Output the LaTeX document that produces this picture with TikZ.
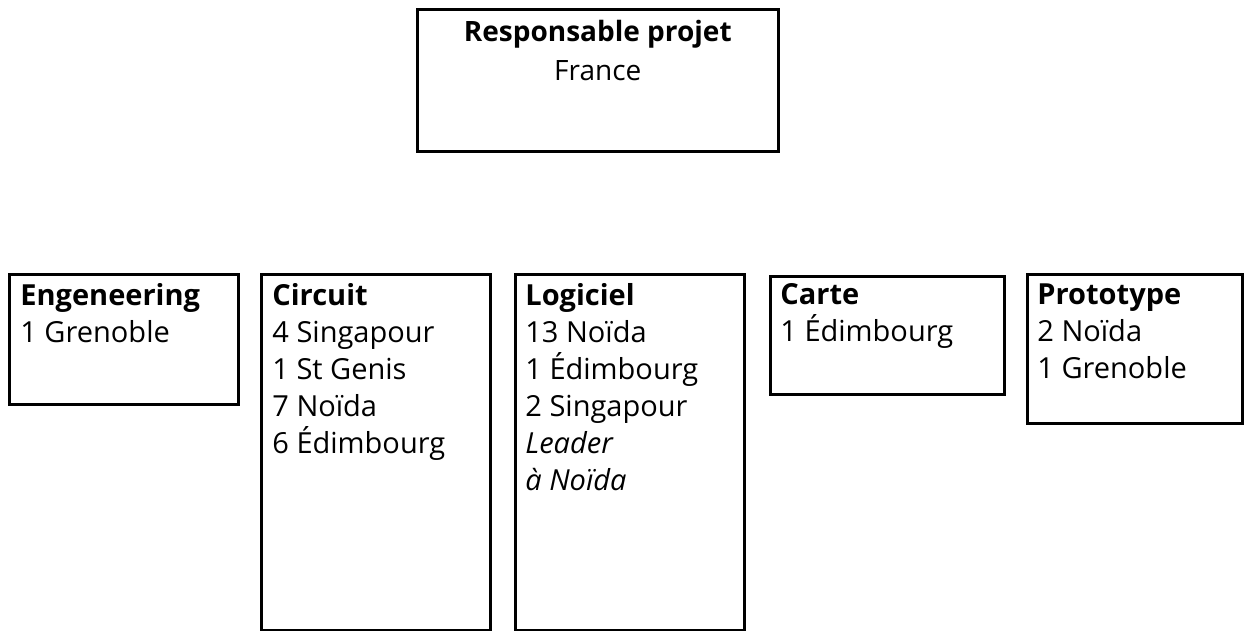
\documentclass[tikz,border=0pt]{standalone}
\usepackage{fontspec}
\setmainfont{Open Sans}
\usepackage{tikz}
\usetikzlibrary{positioning}

\begin{document}
\begin{tikzpicture}[
    x=0.5pt, y=-0.5pt,
    box/.style={draw, line width=1.3pt, inner sep=0pt, anchor=north west},
    entry/.style={inner sep=0pt, align=left, font=\fontsize{14.5}{18.5}\selectfont},
    head/.style={inner sep=0pt, align=center, font=\fontsize{14}{19.5}\selectfont}
]
\useasboundingbox (0,0) rectangle (1244,631);

% boites
\node[box, minimum width=180.5pt, minimum height=71pt] (resp) at (416,8) {};
\node[box, minimum width=114.5pt, minimum height=65pt] (eng) at (8,273) {};
\node[box, minimum width=114.5pt, minimum height=178pt] (circ) at (260,273) {};
\node[box, minimum width=114.5pt, minimum height=178pt] (logi) at (514,273) {};
\node[box, minimum width=117pt, minimum height=59pt] (carte) at (769,275) {};
\node[box, minimum width=107.5pt, minimum height=74.5pt] (proto) at (1026,273) {};

% textes
\node[head, below=6pt of resp.north] (resptxt) {\textbf{Responsable projet}\\France};
\node[entry, below right=5pt and 6pt of eng.north west] (engtxt) {\textbf{Engeneering}\\1 Grenoble};
\node[entry, below right=5pt and 6pt of circ.north west] (circtxt) {\textbf{Circuit}\\4 Singapour\\1 St Genis\\7 Noïda\\6 Édimbourg};
\node[entry, below right=5pt and 5.5pt of logi.north west] (logitxt) {\textbf{Logiciel}\\13 Noïda\\1 Édimbourg\\2 Singapour\\\textit{Leader}\\\textit{à Noïda}};
\node[entry, below right=4pt and 5.5pt of carte.north west] (cartetxt) {\textbf{Carte}\\1 Édimbourg};
\node[entry, below right=5pt and 5.5pt of proto.north west] (prototxt) {\textbf{Prototype}\\2 Noïda\\1 Grenoble};
\end{tikzpicture}
\end{document}
